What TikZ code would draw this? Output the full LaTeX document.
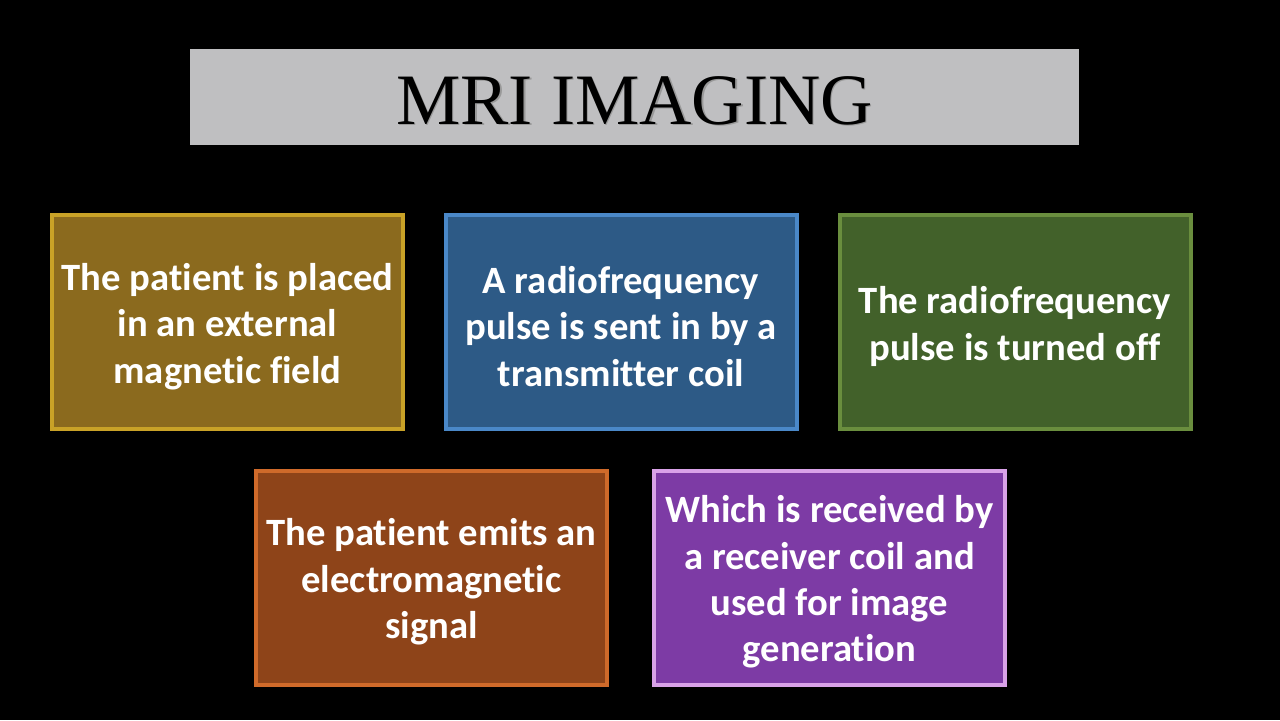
\documentclass[tikz,border=0pt]{standalone}
\usepackage{fontspec}
\setmainfont{Liberation Serif}
\newfontfamily\boxfont[Ligatures={NoCommon}]{Carlito}
\usetikzlibrary{positioning}
\definecolor{titleGray}{HTML}{BFBFC1}
\definecolor{goldFill}{HTML}{8B6A1E}
\definecolor{goldLine}{HTML}{C9A227}
\definecolor{blueFill}{HTML}{2D5A86}
\definecolor{blueLine}{HTML}{4A88C8}
\definecolor{greenFill}{HTML}{42612A}
\definecolor{greenLine}{HTML}{6A8E3E}
\definecolor{rustFill}{HTML}{8E4419}
\definecolor{rustLine}{HTML}{CF6A2A}
\definecolor{purpleFill}{HTML}{7D3BA5}
\definecolor{purpleLine}{HTML}{D9A2E8}
\newcommand{\topStrut}{\rule{0pt}{0.93em}}
\tikzset{
    stepBox/.style={draw, line width=4*0.05cm, minimum width=351*0.05cm,
        minimum height=214*0.05cm, align=center, text=white, inner sep=0pt,
        font=\boxfont\bfseries\fontsize{55}{66}\selectfont},
}
\begin{document}
\begin{tikzpicture}[x=0.05cm,y=-0.05cm]
    \def\rowOne{322}
    \def\rowTwo{577.5}
    \fill[black] (0,0) rectangle (1280,720);
    \node[fill=titleGray, minimum width=889*0.05cm, minimum height=96*0.05cm] (titleBox) at (634.5,97) {};
    \node[text=black!40, font=\fontsize{103}{110}\selectfont] (titleShadow) at (636,102) {MRI IMAGING};
    \node[text=black, font=\fontsize{103}{110}\selectfont] (title) at (634.5,100.5) {MRI IMAGING};
    \node[stepBox, fill=goldFill, draw=goldLine] (placed) at (227.5,\rowOne) {\topStrut The patient is placed\\in an external\\magnetic field};
    \node[stepBox, fill=blueFill, draw=blueLine] (pulseIn) at (621,\rowOne) {\topStrut A radiofrequency\\pulse is sent in by a\\transmitter coil};
    \node[stepBox, fill=greenFill, draw=greenLine] (pulseOff) at (1015,\rowOne) {\topStrut The radiofrequency\\pulse is turned off};
    \node[stepBox, fill=rustFill, draw=rustLine] (emits) at (431.5,\rowTwo) {\topStrut The patient emits an\\electromagnetic\\signal};
    \node[stepBox, fill=purpleFill, draw=purpleLine] (received) at (829.5,\rowTwo) {\topStrut Which is received by\\a receiver coil and\\used for image\\generation};
\end{tikzpicture}
\end{document}
